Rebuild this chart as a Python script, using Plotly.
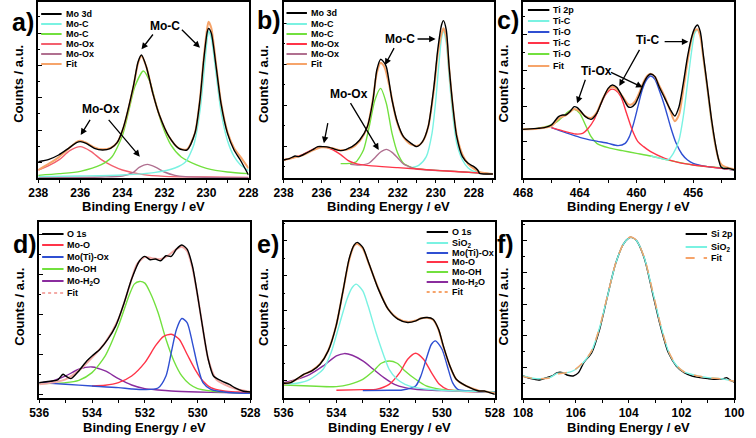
import plotly.graph_objects as go

W, H = 756, 438
FONT = "Liberation Sans, Arial, sans-serif"

# ---------------- panel a : Mo 3d ----------------
a_E_mo3d = [238.0, 237.49, 237.03, 236.56, 236.18, 236.0, 235.72, 235.33, 234.94, 234.56, 234.25, 233.94,
            233.48, 233.25, 233.09, 232.86, 232.55, 232.24, 231.78, 231.32, 230.93, 230.55, 230.31, 230.13,
            229.96, 229.9, 229.77, 229.54, 229.31, 229.0, 228.69, 228.39, 228.0]
a_mo3d = [49, 56, 69, 89, 106, 109, 104, 89, 84, 89, 106, 154, 274, 349, 369, 334, 254, 189, 124, 89,
          84, 134, 234, 354, 439, 449, 434, 334, 224, 134, 84, 54, 9]
a_fit = [24, 43, 62, 88, 108, 112, 106, 92, 86, 90, 106, 152, 272, 345, 366, 334, 254, 189, 124, 90,
         86, 135, 236, 360, 452, 469, 450, 340, 228, 138, 90, 64, 29]
a_E_moc1 = [238, 236, 234, 232.5, 231.5, 231.0, 230.6, 230.3, 230.1, 229.96, 229.9, 229.77, 229.54, 229.31,
            229.0, 228.69, 228.39, 228.0]
a_moc1 = [4, 6, 9, 16, 30, 48, 100, 205, 330, 420, 440, 420, 310, 200, 112, 65, 40, 22]
a_E_moc2 = [238, 237, 236, 235, 234.5, 234.0, 233.7, 233.4, 233.0, 232.7, 232.4, 232.1, 231.7, 231.2, 230.5,
            230.0, 229.0, 228.0]
a_moc2 = [8, 13, 20, 40, 63, 127, 200, 275, 321, 290, 222, 158, 100, 63, 40, 29, 18, 13]
a_E_moox1 = [238, 237.5, 237, 236.5, 236, 235.5, 235, 234.5, 234, 233, 232, 230, 228]
a_moox1 = [24, 37, 55, 82, 94, 80, 55, 37, 24, 10, 5, 3, 2]
a_E_moox2 = [238, 235, 234, 233.5, 233.2, 232.8, 232.4, 232.0, 231.5, 231.0, 230.0, 228.0]
a_moox2 = [1, 3, 6, 16, 32, 41, 32, 18, 8, 4, 2, 1]

# ---------------- panel b : Mo 3d ----------------
b_E_mo3d = [238, 237.7, 237.4, 237.2, 237.0, 236.5, 236.2, 235.9, 235.6, 235.3, 235.0, 234.7, 234.6, 234.4,
            234.0, 233.6, 233.3, 233.1, 232.9, 232.75, 232.6, 232.3, 232.0, 231.7, 231.3, 231.0, 230.7,
            230.4, 230.1, 229.9, 229.7, 229.6, 229.45, 229.3, 229.1, 228.9, 228.6, 228.3, 228.0, 227.8,
            227.7, 227.3, 227.0]
b_mo3d = [54, 58, 66, 64, 69, 84, 94, 94, 92, 86, 82, 86, 89, 94, 114, 154, 234, 324, 356, 349, 334, 234,
          164, 124, 104, 94, 109, 154, 274, 384, 459, 472, 444, 334, 214, 124, 64, 44, 34, 24, 14, 12, 12]
b_E_fit = [238, 237, 236.5, 236, 235.5, 235, 234.5, 234, 233.6, 233.3, 233.1, 232.9, 232.7, 232.4, 232.1,
           231.8, 231.4, 231.0, 230.7, 230.4, 230.1, 229.9, 229.7, 229.6, 229.45, 229.3, 229.1, 228.9,
           228.6, 228.3, 228.0, 227.7, 227.0]
b_fit = [54, 68, 82, 92, 90, 83, 88, 111, 153, 238, 315, 346, 333, 265, 180, 132, 104, 96, 108, 153, 264,
         370, 433, 449, 423, 330, 212, 128, 70, 42, 28, 18, 12]
b_E_moc1 = [231.5, 230.9, 230.5, 230.2, 230.0, 229.85, 229.7, 229.6, 229.45, 229.3, 229.1, 228.9, 228.6,
            228.3, 228.0, 227.5, 227.0]
b_moc1 = [29, 38, 64, 134, 234, 334, 419, 439, 404, 304, 184, 104, 54, 30, 20, 15, 12]
b_E_moc2 = [235, 234.5, 234.2, 233.8, 233.5, 233.2, 232.9, 232.6, 232.3, 232.0, 231.7, 231.3, 231, 230,
            229, 228, 227]
b_moc2 = [43, 44, 48, 84, 154, 234, 269, 224, 134, 74, 44, 32, 28, 23, 20, 16, 12]
b_E_moox1 = [238, 237.5, 237, 236.5, 236, 235.5, 235.0, 234.6, 234.2, 233.5, 232, 230, 228, 227]
b_moox1 = [54, 61, 70, 85, 94, 87, 70, 52, 43, 37, 31, 23, 16, 12]
b_E_moox2 = [234.5, 234, 233.5, 233.2, 232.9, 232.6, 232.3, 232.0, 231.7, 231.3, 231, 229, 227]
b_moox2 = [41, 39, 45, 61, 78, 86, 77, 60, 42, 32, 27, 20, 12]

# ---------------- panel c : Ti 2p ----------------
c_E_ti2p = [468, 467, 466.5, 466, 465.5, 465.2, 465, 464.7, 464.4, 464.2, 464.0, 463.6, 463.2, 462.8,
            462.4, 462.0, 461.7, 461.4, 461.0, 460.6, 460.4, 460.1, 459.8, 459.5, 459.2, 459.0, 458.7,
            458.4, 458.0, 457.6, 457.3, 457.0, 456.7, 456.4, 456.1, 455.9, 455.7, 455.5, 455.3, 455.0,
            454.7, 454.4, 454.2, 454.05, 453.9, 453.5, 453.1]
c_ti2p = [146, 149, 151, 159, 184, 189, 189, 199, 214, 212, 204, 184, 176, 194, 234, 269, 279, 272, 244,
          214, 212, 222, 249, 284, 306, 312, 304, 274, 239, 204, 186, 214, 284, 364, 424, 449, 459, 439,
          374, 274, 174, 94, 54, 34, 29, 29, 24]
c_E_fit = [468, 467, 466, 465.5, 465, 464.7, 464.4, 464.0, 463.6, 463.2, 462.8, 462.4, 462.0, 461.7, 461.4,
           461.0, 460.6, 460.4, 460.1, 459.8, 459.5, 459.2, 459.0, 458.7, 458.4, 458.0, 457.6, 457.3,
           457.0, 456.7, 456.4, 456.1, 455.9, 455.7, 455.5, 455.3, 455.0, 454.7, 454.4, 454.2, 454.0,
           453.5, 453.1]
c_fit = [146, 148, 156, 178, 188, 198, 207, 200, 185, 180, 197, 236, 266, 274, 268, 246, 222, 220, 230,
         256, 288, 308, 313, 304, 278, 243, 200, 170, 190, 265, 350, 420, 442, 446, 425, 365, 270, 170,
         90, 55, 40, 30, 26]
c_E_tic1 = [459, 458, 457.8, 457.4, 457.0, 456.7, 456.4, 456.1, 455.9, 455.7, 455.5, 455.3, 455.0, 454.7,
            454.4, 454.1, 453.8, 453.1]
c_tic1 = [66, 56, 54, 74, 114, 184, 284, 384, 434, 444, 429, 364, 264, 164, 89, 44, 31, 24]
c_E_tio1 = [466, 465, 464, 463, 462, 461.3, 460.8, 460.5, 460.2, 459.9, 459.6, 459.3, 459.0, 458.7, 458.4,
            458.0, 457.6, 457.2, 456.8, 456.4, 456.0, 455.0, 454.0, 453.1]
c_tio1 = [151, 136, 122, 112, 104, 97, 104, 124, 164, 214, 264, 294, 306, 296, 264, 214, 154, 104, 72,
          54, 44, 34, 29, 24]
c_E_tic2 = [466, 465, 464.3, 463.8, 463.4, 463.0, 462.6, 462.2, 461.8, 461.5, 461.1, 460.7, 460.3, 459.9,
            459.5, 459.0, 458.0, 457.0, 456.0, 455.0, 454.0, 453.1]
c_tic2 = [151, 139, 132, 134, 149, 174, 214, 249, 266, 264, 244, 194, 144, 109, 94, 79, 59, 46, 39, 34,
          29, 24]
c_E_tio2 = [468, 467, 466.2, 465.6, 465.2, 464.8, 464.4, 464.0, 463.6, 463.2, 462.8, 462.0, 461.0, 460.0,
            459.0, 458.0, 457.0, 456.0, 455.0, 454.0, 453.1]
c_tio2 = [146, 149, 156, 169, 184, 199, 206, 194, 159, 124, 104, 91, 82, 74, 66, 56, 47, 39, 34, 31, 26]

# ---------------- panel d : O 1s ----------------
d_E_o1s = [536, 535.5, 535.3, 535.1, 535.0, 534.8, 534.5, 534.2, 534.0, 533.7, 533.4, 533.1, 532.8,
           532.5, 532.2, 532.0, 531.8, 531.6, 531.4, 531.2, 531.0, 530.8, 530.6, 530.4, 530.2, 530.0,
           529.8, 529.6, 529.4, 529.1, 528.8, 528.6, 528.3, 528.0]
d_o1s = [46, 51, 54, 71, 66, 58, 81, 111, 126, 146, 176, 216, 281, 356, 411, 424, 414, 416, 411, 426, 424,
         446, 458, 446, 396, 306, 206, 116, 66, 51, 41, 31, 21, 18]
d_E_fit = [536, 535.5, 535, 534.5, 534, 533.5, 533, 532.6, 532.3, 532.0, 531.7, 531.4, 531.1, 530.8,
           530.6, 530.4, 530.2, 530.0, 529.8, 529.6, 529.3, 529.0, 528.5, 528]
d_fit = [41, 46, 56, 82, 121, 166, 236, 330, 400, 422, 418, 416, 428, 446, 453, 440, 390, 306, 206, 116,
         56, 41, 26, 18]
d_E_moo = [534, 533.5, 533, 532.5, 532.0, 531.6, 531.3, 531.0, 530.7, 530.4, 530.1, 529.8, 529.5, 529,
           528.5, 528]
d_moo = [36, 38, 46, 66, 106, 156, 184, 191, 176, 131, 86, 51, 31, 21, 18, 16]
d_E_moox = [536, 535, 534, 533, 532.5, 532.0, 531.5, 531.2, 531.0, 530.8, 530.6, 530.4, 530.2, 530.0,
            529.8, 529.5, 529, 528.5, 528]
d_moox = [46, 41, 36, 31, 27, 25, 30, 66, 136, 206, 238, 226, 166, 96, 46, 26, 18, 15, 14]
d_E_mooh = [536, 535, 534.5, 534, 533.5, 533, 532.6, 532.4, 532.2, 532.0, 531.8, 531.5, 531.2, 530.9,
            530.6, 530.3, 530, 529.5, 529, 528]
d_mooh = [43, 46, 53, 76, 126, 216, 306, 341, 349, 344, 316, 256, 176, 111, 66, 41, 28, 21, 18, 14]
d_E_moh2o = [536, 535.5, 535, 534.5, 534.0, 533.5, 533, 532.5, 532, 531.5, 531, 530, 529, 528]
d_moh2o = [44, 51, 66, 86, 93, 81, 58, 39, 28, 24, 21, 18, 16, 14]

# ---------------- panel e : O 1s ----------------
e_E_o1s = [536, 535.73, 535.48, 535.24, 534.93, 534.62, 534.31, 534.01, 533.76, 533.52, 533.33, 533.21,
           533.0, 532.78, 532.41, 532.04, 531.67, 531.3, 530.99, 530.81, 530.56, 530.34, 530.13, 529.95,
           529.7, 529.46, 529.09, 528.8, 528.6, 528.4, 528.2, 528.0]
e_o1s = [44, 46, 58, 71, 81, 101, 141, 216, 316, 416, 458, 466, 451, 406, 326, 266, 236, 226, 231, 238,
         241, 236, 206, 156, 96, 56, 36, 26, 21, 21, 16, 11]
e_fit = [42, 47, 57, 70, 82, 102, 142, 216, 315, 412, 456, 462, 448, 404, 328, 266, 238, 228, 232, 238,
         240, 234, 204, 154, 95, 56, 36, 27, 22, 20, 17, 14]
e_E_sio2 = [536, 535.5, 535, 534.5, 534.2, 533.9, 533.6, 533.4, 533.25, 533.0, 532.8, 532.5, 532.2, 532.0,
            531.7, 531.4, 531, 530.5, 530, 529, 528]
e_sio2 = [41, 44, 56, 86, 136, 216, 296, 331, 341, 321, 276, 196, 126, 86, 56, 41, 31, 26, 23, 20, 18]
e_E_moox = [533, 532, 531.5, 531.0, 530.8, 530.6, 530.4, 530.25, 530.0, 529.8, 529.6, 529.4, 529, 528]
e_moox = [22, 23, 24, 36, 66, 116, 161, 171, 146, 96, 46, 26, 21, 18]
e_E_moo = [534, 533, 532.5, 532.0, 531.6, 531.3, 531.0, 530.7, 530.4, 530.1, 529.8, 529.4, 528]
e_moo = [23, 25, 26, 41, 76, 116, 134, 116, 76, 41, 26, 21, 18]
e_E_mooh = [536, 535, 534, 533.5, 533.0, 532.6, 532.3, 532.0, 531.7, 531.4, 531.0, 530.6, 530.2, 529.8,
            529, 528]
e_mooh = [39, 36, 34, 41, 56, 81, 104, 111, 104, 81, 56, 36, 28, 24, 21, 18]
e_E_moh2o = [536, 535.5, 535, 534.5, 534.0, 533.7, 533.4, 533.0, 532.6, 532.2, 531.8, 531.4, 531, 530,
             529, 528]
e_moh2o = [46, 56, 71, 96, 126, 133, 128, 111, 86, 61, 41, 31, 26, 22, 20, 18]

# ---------------- panel f : Si 2p ----------------
f_E_si2p = [108, 107.7, 107.4, 107.1, 106.9, 106.7, 106.5, 106.3, 106.1, 105.9, 105.7, 105.4, 105.1,
            104.8, 104.5, 104.2, 104.0, 103.9, 103.7, 103.4, 103.1, 102.8, 102.5, 102.2, 101.9, 101.6,
            101.3, 101.0, 100.7, 100.4, 100.3, 100.1, 100.0]
f_si2p = [66, 58, 54, 61, 66, 76, 76, 68, 66, 76, 106, 136, 206, 306, 401, 461, 479, 481, 471, 416, 316,
          216, 136, 96, 76, 66, 61, 58, 56, 58, 61, 51, 48]
f_E_sio2 = [108, 107.5, 107, 106.7, 106.5, 106.2, 106.0, 105.7, 105.4, 105.1, 104.8, 104.5, 104.2, 104.0,
            103.9, 103.7, 103.4, 103.1, 102.8, 102.5, 102.2, 101.9, 101.5, 101.0, 100.5, 100.0]
f_sio2 = [66, 58, 61, 74, 74, 78, 86, 108, 141, 211, 306, 401, 461, 479, 481, 471, 418, 321, 221, 141, 98,
          78, 68, 61, 58, 50]
f_fit = [64, 58, 60, 72, 74, 79, 87, 109, 142, 212, 308, 402, 462, 480, 482, 472, 419, 322, 222, 142, 99,
         78, 68, 61, 57, 50]

# ---------------- labels ----------------
XTITLE = "Binding Energy / eV"
YTITLE = "Counts / a.u."
PANEL_LETTERS = ["a)", "b)", "c)", "d)", "e)", "f)"]

BLACK = "#000000"
CYAN = "#7af2e2"
GREEN = "#72e03e"
RED = "#ff3448"
PINKRED = "#f3606e"
MAUVE = "#b07090"
BLUE = "#2f4fd2"
PURPLE = "#8a2c9e"
FIT = "#f6a46a"
FITPINK = "#f4aaa6"


def px(x):
    return x / W


def py(y):
    return 1 - y / H


# each panel: box in pixels, axis settings, traces (draw order), legend entries, arrows
panels = [
    dict(box=(29, 245, 2, 178), xr=[238, 228], xd=2, yt=(47, 97), ymax=528,
         traces=[(a_E_moox1, a_moox1, PINKRED, "Mo-Ox", None), (a_E_moox2, a_moox2, MAUVE, "Mo-Ox", None),
                 (a_E_moc2, a_moc2, GREEN, "Mo-C", None), (a_E_moc1, a_moc1, CYAN, "Mo-C", None),
                 (a_E_mo3d, a_fit, FIT, "Fit", None), (a_E_mo3d, a_mo3d, BLACK, "Mo 3d", None)],
         legend=dict(x0=32, x1=53, rows=[14, 24, 34, 44, 54, 64],
                     items=[("Mo 3d", BLACK, None), ("Mo-C", CYAN, None), ("Mo-C", GREEN, None),
                            ("Mo-Ox", PINKRED, None), ("Mo-Ox", MAUVE, None), ("Fit", FIT, None)]),
         texts=[("Mo-C", 231.98, 456), ("Mo-Ox", 235.02, 207)],
         arrows=[(232.49, 435, 233.09, 386), (231.24, 449, 230.31, 391),
                 (235.49, 179, 235.98, 129), (234.71, 179, 233.17, 64)],
         letter_y=22, ytitle_y=84, xtitle_y=206),
    dict(box=(281, 497, 2, 178), xr=[238, 226.95], xd=2, yt=(96, 123), ymax=528,
         traces=[(b_E_moc1, b_moc1, CYAN, "Mo-C", None), (b_E_moc2, b_moc2, GREEN, "Mo-C", None),
                 (b_E_moox2, b_moox2, MAUVE, "Mo-Ox", None), (b_E_moox1, b_moox1, RED, "Mo-Ox", None),
                 (b_E_fit, b_fit, FIT, "Fit", None), (b_E_mo3d, b_mo3d, BLACK, "Mo 3d", None)],
         legend=dict(x0=284, x1=305, rows=[13, 24, 34, 44, 54, 64],
                     items=[("Mo 3d", BLACK, None), ("Mo-C", CYAN, None), ("Mo-C", GREEN, None),
                            ("Mo-Ox", RED, None), ("Mo-Ox", MAUVE, None), ("Fit", FIT, None)]),
         texts=[("Mo-C", 231.86, 417), ("Mo-Ox", 234.55, 253)],
         arrows=[(231.04, 417, 230.01, 417), (232.15, 394, 232.67, 339),
                 (235.66, 169, 235.88, 104), (234.53, 229, 233.0, 84)],
         letter_y=20, ytitle_y=84, xtitle_y=206),
    dict(box=(527, 744, 2, 178), xr=[468, 453.1], xd=4, yt=(109, 107), ymax=528,
         traces=[(c_E_tio2, c_tio2, GREEN, "Ti-O", None), (c_E_tio1, c_tio1, BLUE, "Ti-O", None),
                 (c_E_tic2, c_tic2, RED, "Ti-C", None), (c_E_tic1, c_tic1, CYAN, "Ti-C", None),
                 (c_E_fit, c_fit, FIT, "Fit", None), (c_E_ti2p, c_ti2p, BLACK, "Ti 2p", None)],
         legend=dict(x0=532, x1=554, rows=[10, 21, 32, 43, 54, 66],
                     items=[("Ti 2p", BLACK, None), ("Ti-C", CYAN, None), ("Ti-O", BLUE, None),
                            ("Ti-C", RED, None), ("Ti-O", GREEN, None), ("Fit", FIT, None)]),
         texts=[("Ti-C", 459.22, 414), ("Ti-Ox", 462.81, 320)],
         arrows=[(458.12, 409, 456.34, 409), (459.73, 389, 461.21, 276),
                 (463.57, 299, 464.19, 224), (461.9, 319, 459.57, 272)],
         letter_y=20, ytitle_y=84, xtitle_y=206),
    dict(box=(30, 247, 222, 398), xr=[536, 528], xd=2, yt=(11, 120), ymax=527,
         traces=[(d_E_moh2o, d_moh2o, PURPLE, "Mo-H2O", None), (d_E_mooh, d_mooh, GREEN, "Mo-OH", None),
                 (d_E_moo, d_moo, RED, "Mo-O", None), (d_E_moox, d_moox, BLUE, "Mo(Ti)-Ox", None),
                 (d_E_fit, d_fit, FITPINK, "Fit", None), (d_E_o1s, d_o1s, BLACK, "O 1s", None)],
         legend=dict(x0=33, x1=55, rows=[234, 245, 257, 269, 281, 293],
                     items=[("O 1s", BLACK, None), ("Mo-O", RED, None), ("Mo(Ti)-Ox", BLUE, None),
                            ("Mo-OH", GREEN, None), ("Mo-H<sub>2</sub>O", PURPLE, None),
                            ("Fit", FITPINK, "dot")]),
         texts=[], arrows=[], letter_y=244, ytitle_y=307, xtitle_y=427),
    dict(box=(281, 498, 222, 398), xr=[536, 528], xd=2, yt=(51, 105), ymax=527,
         traces=[(e_E_moh2o, e_moh2o, PURPLE, "Mo-H2O", None), (e_E_mooh, e_mooh, GREEN, "Mo-OH", None),
                 (e_E_moo, e_moo, RED, "Mo-O", None), (e_E_moox, e_moox, BLUE, "Mo(Ti)-Ox", None),
                 (e_E_sio2, e_sio2, CYAN, "SiO2", None),
                 (e_E_o1s, e_fit, FIT, "Fit", None), (e_E_o1s, e_o1s, BLACK, "O 1s", None)],
         legend=dict(x0=428, x1=450, rows=[232, 243, 253, 262, 272, 282, 292],
                     items=[("O 1s", BLACK, None), ("SiO<sub>2</sub>", CYAN, None),
                            ("Mo(Ti)-Ox", BLUE, None), ("Mo-O", RED, None), ("Mo-OH", GREEN, None),
                            ("Mo-H<sub>2</sub>O", PURPLE, None), ("Fit", FIT, "dot")]),
         texts=[], arrows=[], letter_y=244, ytitle_y=307, xtitle_y=427),
    dict(box=(527, 744, 222, 398), xr=[108, 100], xd=2, yt=(91, 95), ymax=527,
         traces=[(f_E_si2p, f_si2p, BLACK, "Si 2p", None), (f_E_sio2, f_sio2, CYAN, "SiO2", None),
                 (f_E_sio2, f_fit, FIT, "Fit", "dash")],
         legend=dict(x0=694, x1=716, rows=[234, 247, 258],
                     items=[("Si 2p", BLACK, None), ("SiO<sub>2</sub>", CYAN, None), ("Fit", FIT, "dash")]),
         texts=[], arrows=[], letter_y=244, ytitle_y=307, xtitle_y=427),
]

fig = go.Figure()
annotations = []
shapes = []
layout_axes = {}

for i, p in enumerate(panels):
    n = i + 1
    xid = "x" if n == 1 else f"x{n}"
    yid = "y" if n == 1 else f"y{n}"
    xl, xr_, yt_, yb = p["box"]
    for (E, v, color, name, dash) in p["traces"]:
        fig.add_trace(go.Scatter(
            x=E, y=v, mode="lines", name=name, showlegend=False,
            line=dict(color=color, width=2.0 if name == "Fit" and n != 6 else 1.4,
                      shape="spline", smoothing=0.7, dash=dash),
            xaxis=xid, yaxis=yid, hoverinfo="skip"))
    xd = p["xd"]
    layout_axes["xaxis" if n == 1 else f"xaxis{n}"] = dict(
        domain=[px(xl), px(xr_)], anchor=yid, range=p["xr"],
        showline=True, linecolor="black", linewidth=1.5, mirror=True,
        showgrid=False, zeroline=False,
        ticks="outside", ticklen=3, tickwidth=1, tickcolor="black",
        tick0=0, dtick=xd,
        minor=dict(ticks="outside", ticklen=3, tickwidth=1, tickcolor="black", tick0=0, dtick=xd / 2,
                   showgrid=False),
        tickfont=dict(family=FONT, size=12, color="black", weight="bold"))
    t0, dt = p["yt"]
    layout_axes["yaxis" if n == 1 else f"yaxis{n}"] = dict(
        domain=[py(yb), py(yt_)], anchor=xid, range=[0, p["ymax"]],
        showline=True, linecolor="black", linewidth=1.5, mirror=True,
        showgrid=False, zeroline=False, showticklabels=False,
        ticks="inside", ticklen=4, tickwidth=1, tickcolor="black",
        tick0=t0, dtick=dt,
        minor=dict(ticks="inside", ticklen=2, tickwidth=1, tickcolor="black", tick0=t0 + dt / 2, dtick=dt,
                   showgrid=False))

    # legend drawn inside the panel
    lg = p["legend"]
    for (label, color, dash), row in zip(lg["items"], lg["rows"]):
        shapes.append(dict(type="line", xref="paper", yref="paper",
                           x0=px(lg["x0"]), x1=px(lg["x1"]), y0=py(row), y1=py(row),
                           line=dict(color=color, width=2, dash=dash or "solid")))
        annotations.append(dict(xref="paper", yref="paper", x=px(lg["x1"] + 2), y=py(row),
                                xanchor="left", yanchor="middle", showarrow=False,
                                text=f"<b>{label}</b>",
                                font=dict(family=FONT, size=9, color="black")))

    # peak labels and arrows
    for (txt, E, v) in p["texts"]:
        annotations.append(dict(xref=xid, yref=yid, x=E, y=v, showarrow=False, text=f"<b>{txt}</b>",
                                font=dict(family=FONT, size=12, color="black")))
    for (E0, v0, E1, v1) in p["arrows"]:
        annotations.append(dict(xref=xid, yref=yid, axref=xid, ayref=yid, x=E1, y=v1, ax=E0, ay=v0,
                                text="", showarrow=True, arrowhead=2, arrowsize=1, arrowwidth=1.3,
                                arrowcolor="black"))

    # panel letter, axis titles
    annotations.append(dict(xref="paper", yref="paper", x=px(xl - 29), y=py(p["letter_y"]),
                            xanchor="left", yanchor="middle", showarrow=False,
                            text=f"<b>{PANEL_LETTERS[i]}</b>",
                            font=dict(family=FONT, size=25, color="black")))
    annotations.append(dict(xref="paper", yref="paper", x=px(xl - 21), y=py(p["ytitle_y"]),
                            xanchor="center", yanchor="middle", showarrow=False, textangle=-90,
                            text=f"<b>{YTITLE}</b>", font=dict(family=FONT, size=13, color="black")))
    annotations.append(dict(xref="paper", yref="paper", x=px((xl + xr_) / 2), y=py(p["xtitle_y"]),
                            xanchor="center", yanchor="middle", showarrow=False,
                            text=f"<b>{XTITLE}</b>", font=dict(family=FONT, size=13, color="black")))

fig.update_layout(
    width=W, height=H, margin=dict(l=0, r=0, t=0, b=0),
    paper_bgcolor="white", plot_bgcolor="white",
    showlegend=False, annotations=annotations, shapes=shapes,
    font=dict(family=FONT, color="black"),
    **layout_axes)

fig.write_html("out.html", config={"displayModeBar": False},
               post_script="document.body.style.margin='0px';document.body.style.padding='0px';"
                           "document.body.style.overflow='hidden';")
